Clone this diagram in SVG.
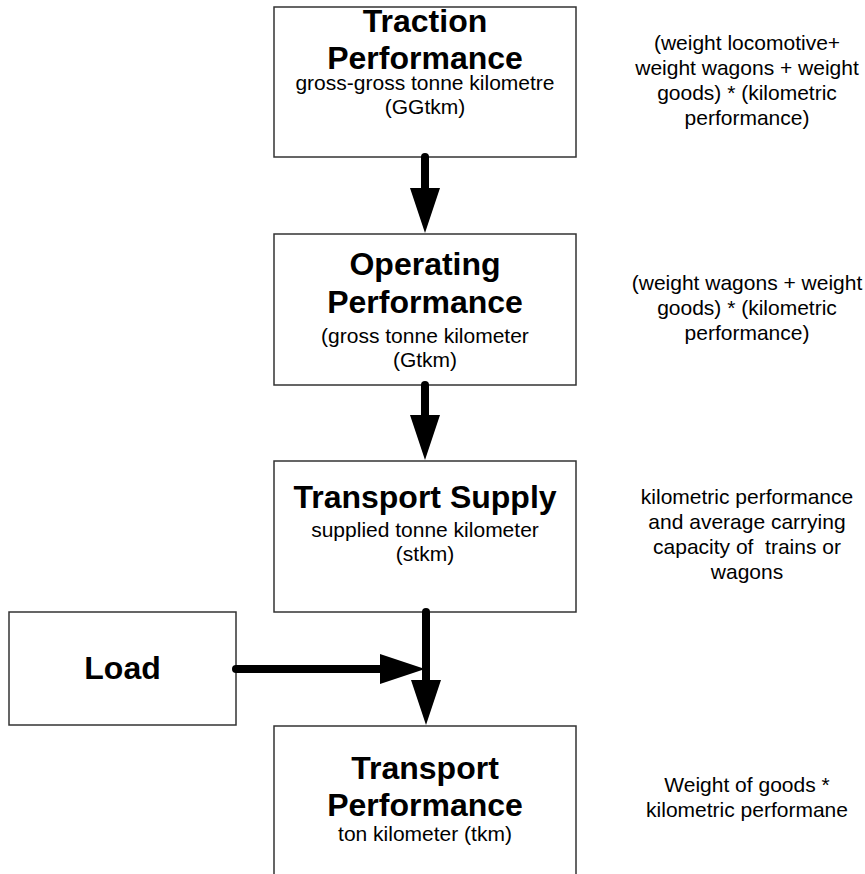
<svg xmlns="http://www.w3.org/2000/svg" width="865" height="874" viewBox="0 0 865 874">
<defs>
<style>
.box{fill:#fff;stroke:#333;stroke-width:1.5}
.t{font-family:"Liberation Sans",Arial,sans-serif;font-weight:bold;font-size:32px;fill:#000;text-anchor:middle}
.s{font-family:"Liberation Sans",Arial,sans-serif;font-size:21px;fill:#000;text-anchor:middle}
.c{fill:none;stroke:#000;stroke-width:8;stroke-linecap:round}
</style>
<marker id="ah" markerUnits="userSpaceOnUse" markerWidth="46" markerHeight="30" refX="2" refY="15" orient="auto">
<path d="M0,0 L45,15 L0,30 Z" fill="#000"/>
</marker>
</defs>
<rect width="865" height="874" fill="#fff"/>
<g id="traction">
<rect class="box" x="274" y="7" width="302" height="150"/>
<text class="t" x="425" y="32">Traction</text>
<text class="t" x="425" y="69">Performance</text>
<text class="s" x="425" y="90">gross-gross tonne kilometre</text>
<text class="s" x="425" y="114">(GGtkm)</text>
</g>
<g id="operating">
<rect class="box" x="274" y="234" width="302" height="151"/>
<text class="t" x="425" y="275">Operating</text>
<text class="t" x="425" y="313">Performance</text>
<text class="s" x="425" y="343">(gross tonne kilometer</text>
<text class="s" x="425" y="367">(Gtkm)</text>
</g>
<g id="supply">
<rect class="box" x="274" y="461" width="302" height="151"/>
<text class="t" x="425" y="508">Transport Supply</text>
<text class="s" x="425" y="537">supplied tonne kilometer</text>
<text class="s" x="425" y="561">(stkm)</text>
</g>
<g id="load">
<rect class="box" x="9" y="612" width="227" height="113"/>
<text class="t" x="122.5" y="679">Load</text>
</g>
<g id="performance">
<rect class="box" x="274" y="726" width="302" height="160"/>
<text class="t" x="425" y="779">Transport</text>
<text class="t" x="425" y="816">Performance</text>
<text class="s" x="425" y="841">ton kilometer (tkm)</text>
</g>
<g id="notes">
<text class="s" x="747" y="50">(weight locomotive+</text>
<text class="s" x="747" y="75">weight wagons + weight</text>
<text class="s" x="747" y="100">goods) * (kilometric</text>
<text class="s" x="747" y="125">performance)</text>
<text class="s" x="747" y="290">(weight wagons + weight</text>
<text class="s" x="747" y="315">goods) * (kilometric</text>
<text class="s" x="747" y="340">performance)</text>
<text class="s" x="747" y="504">kilometric performance</text>
<text class="s" x="747" y="529">and average carrying</text>
<text class="s" x="747" y="554" xml:space="preserve" style="white-space:pre">capacity of  trains or</text>
<text class="s" x="747" y="579">wagons</text>
<text class="s" x="747" y="792">Weight of goods *</text>
<text class="s" x="747" y="817">kilometric performane</text>
</g>
<g id="connectors">
<path class="c" d="M425,157 V190" marker-end="url(#ah)"/>
<path class="c" d="M425,385 V417" marker-end="url(#ah)"/>
<path class="c" d="M426,612 V682" marker-end="url(#ah)"/>
<path class="c" d="M236,669 H382" marker-end="url(#ah)"/>
</g>
</svg>
